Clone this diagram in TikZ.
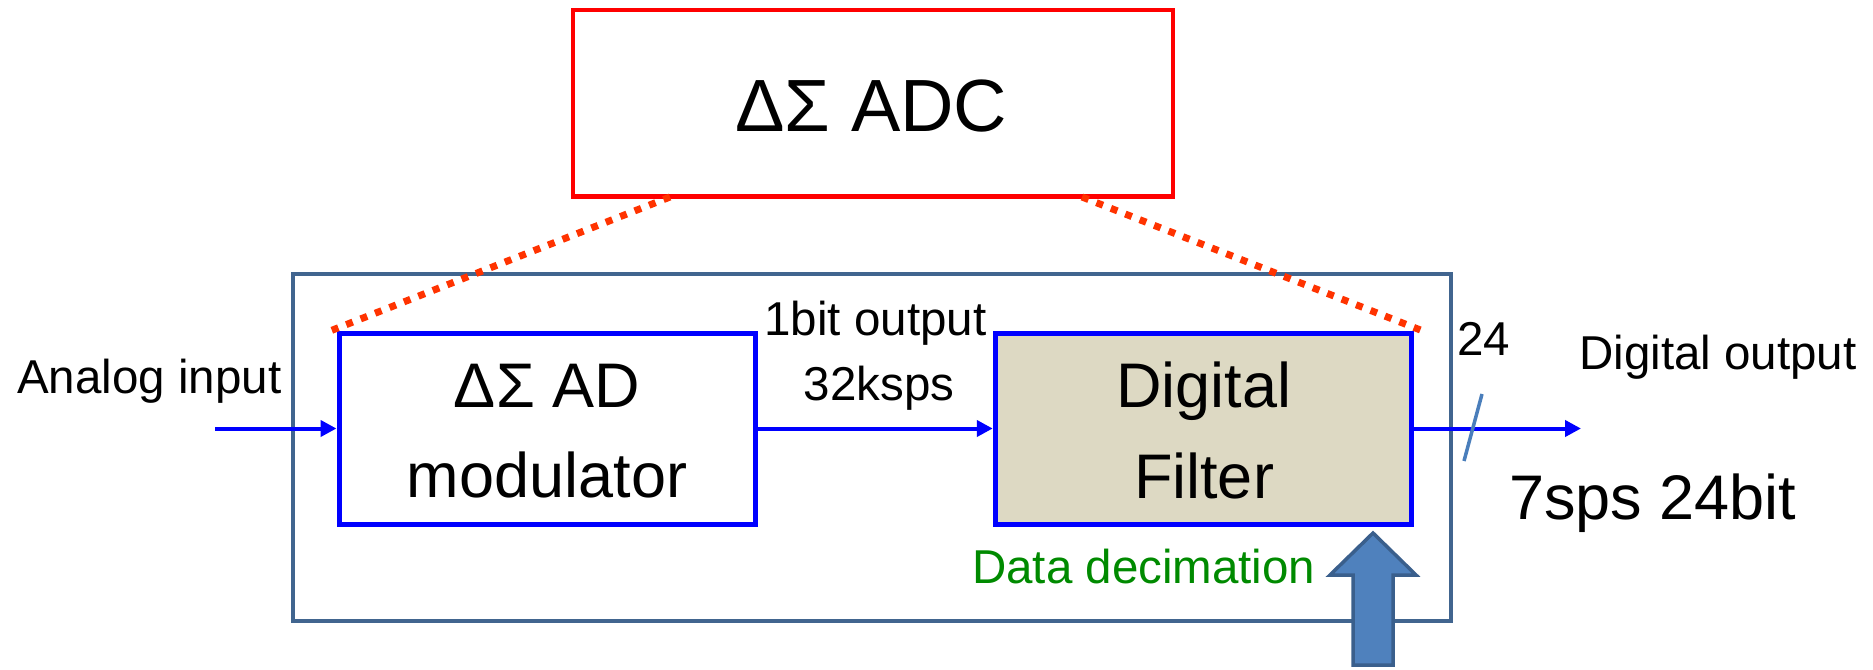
\documentclass[tikz,border=0pt]{standalone}
\usepackage{fontspec}
\setmainfont{Liberation Sans}
\usetikzlibrary{arrows.meta}
\definecolor{boxblue}{HTML}{0000FF}
\definecolor{adcred}{HTML}{FF0000}
\definecolor{dotred}{HTML}{FF3300}
\definecolor{frame}{HTML}{41658F}
\definecolor{filtfill}{HTML}{DDD9C3}
\definecolor{arrfill}{HTML}{4F81BD}
\definecolor{arrdraw}{HTML}{3A5F8C}
\definecolor{slashc}{HTML}{4A7EBB}
\definecolor{decgreen}{HTML}{008A00}
\newcommand\fsBig{\fontsize{74}{80}\selectfont}
\newcommand\fsBox{\fontsize{63}{70}\selectfont}
\newcommand\fsRate{\fontsize{63}{70}\selectfont}
\newcommand\fsSmall{\fontsize{47.5}{52}\selectfont}
\begin{document}
\begin{tikzpicture}[x=1pt,y=-1pt,
  blk/.style={draw=boxblue, line width=5pt, inner sep=0pt, minimum width=416pt, minimum height=191pt},
  lbl/.style={inner sep=0pt, anchor=base west},
  clbl/.style={inner sep=0pt, anchor=base},
  flow/.style={draw=boxblue, line width=4pt, -{Triangle[length=16pt,width=16pt]}},
  dots/.style={draw=dotred, line width=7pt, dash pattern=on 7pt off 8.5pt},
]
\useasboundingbox (0,0) rectangle (1873,669);

% outer frame
\node[draw=frame, line width=4.5pt, minimum width=1158pt, minimum height=347pt, inner sep=0pt] (frm) at (872,447.5) {};

% top ADC box
\node[draw=adcred, line width=4.5pt, minimum width=600pt, minimum height=186.5pt, inner sep=0pt] (adc) at (873,103.25) {};
\node[clbl] (adct) at (871.5,131) {\fsBig ΔΣ ADC};

% blocks
\node[blk, fill=filtfill] (filt) at (1203.25,428.5) {};
\node[blk] (mod) at (547,428.5) {};

% dotted zoom lines
\coordinate (dla) at (670,197);
\coordinate (dlb) at (325,333);
\coordinate (dra) at (1082,197);
\coordinate (drb) at (1428,333);
\draw[dots] (dla) -- (dlb);
\draw[dots] (dra) -- (drb);

% block texts
\node[clbl] (modt1) at (547,407) {\fsBox ΔΣ AD};
\node[clbl] (modt2) at (547,497) {\fsBox modulator};
\node[clbl] (filtt1) at (1204,407) {\fsBox Digital};
\node[clbl] (filtt2) at (1204,498) {\fsBox Filter};

% flow arrows
\coordinate (in) at (215,428.5);
\coordinate (out) at (1581,428.5);
\draw[flow] (in) -- (mod.west);
\draw[flow] (mod.east) -- (filt.west);
\draw[flow] (filt.east) -- (out);

% bus slash
\coordinate (sla) at (1482,394);
\coordinate (slb) at (1464,461);
\draw[slashc, line width=3.5pt] (sla) -- (slb);

% labels
\node[lbl] (ain) at (17,393) {\fsSmall Analog input};
\node[clbl] (bit1) at (875.5,335) {\fsSmall 1bit output};
\node[clbl] (bit2) at (879,400) {\fsSmall 32ksps};
\node[lbl] (n24) at (1457,355) {\fsSmall 24};
\node[lbl] (dout) at (1579,369) {\fsSmall Digital output};
\node[lbl] (rate) at (1509,519) {\fsRate 7sps 24bit};
\node[lbl, text=decgreen] (dec) at (972,583) {\fsSmall Data decimation};

% block arrow (decimation control)
\draw[arrdraw, fill=arrfill, line width=3.5pt, line join=miter]
  (1353,665) -- (1353,575) -- (1330,575) -- (1373,533) -- (1416,575) -- (1393,575) -- (1393,665) -- cycle;
\end{tikzpicture}
\end{document}
